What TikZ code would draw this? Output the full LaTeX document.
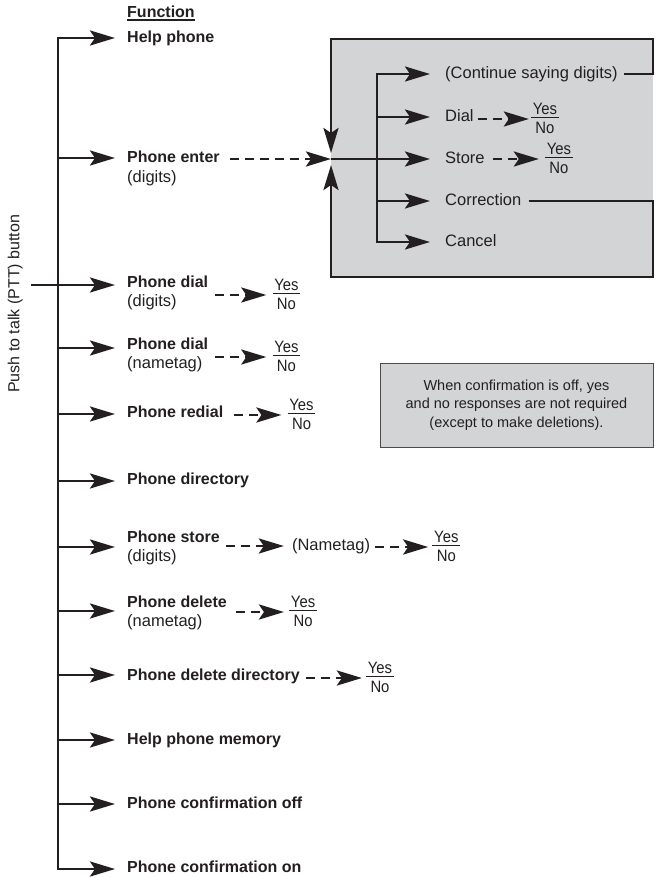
\documentclass[tikz,border=0pt]{standalone}
\usepackage{fontspec}
\usepackage{graphicx}
\setmainfont{Liberation Sans}
\usetikzlibrary{arrows.meta}
\definecolor{ink}{HTML}{231F20}
\definecolor{boxfill}{HTML}{D3D4D6}
\definecolor{noteline}{HTML}{4A4A4A}
\newcommand{\yn}{\scalebox{0.9}[1]{\renewcommand{\arraystretch}{0}\setlength{\arrayrulewidth}{1.1pt}\begin{tabular}{@{\hspace{2pt}}c@{\hspace{2pt}}}\raisebox{0pt}[12.5pt][3pt]{Yes}\\\hline\raisebox{0pt}[15pt][3pt]{No}\end{tabular}}}
\tikzset{
  myhead/.tip={Stealth[length=25pt,width=15pt,inset=5pt]},
  ln/.style={draw=ink, line width=2.8pt},
  arr/.style={ln, arrows={-myhead}},
  darr/.style={ln, arrows={-myhead}, dash pattern=on 9pt off 6pt},
  lbl/.style={anchor=west, inner sep=0pt, text=ink, text height=12pt, text depth=3pt, font=\fontsize{16}{19}\selectfont\bfseries},
  sub/.style={lbl, font=\fontsize{16.5}{19}\selectfont\mdseries},
  ynode/.style={anchor=west, inner sep=0pt, text=ink, font=\fontsize{16.5}{19}\selectfont},
  note/.style={draw=noteline, line width=0.9pt, fill=boxfill, inner sep=0pt, minimum width=273pt, minimum height=84pt, align=center, text=ink, font=\fontsize{14.5}{18.5}\selectfont}
}
\begin{document}
\begin{tikzpicture}[x=1pt,y=-1pt]
\useasboundingbox (0,0) rectangle (656,877);
% gray box geometry
\coordinate (bTL) at (331,39);
\coordinate (bTR) at (653,39);
\coordinate (bBR) at (653,277);
\coordinate (bBL) at (331,277);
\coordinate (hub) at (331,159);
\coordinate (iv) at (377,159);
\fill[boxfill] (bTL) rectangle (bBR);

% heading
\node[lbl] (func) at (127,13) {Function};
\draw[ink, line width=1.3pt] ([yshift=-2.5pt]func.base west) -- ([yshift=-2.5pt]func.base east);

% left labels
\node[lbl] (help) at (127,38) {Help phone};
\node[lbl] (enter) at (127,158) {Phone enter};
\node[sub] (enter2) at ([yshift=-20pt]enter.west) {(digits)};
\node[lbl] (dial) at (127,283) {Phone dial};
\node[sub] (dial2) at ([yshift=-19pt]dial.west) {(digits)};
\node[lbl] (dialn) at (127,345) {Phone dial};
\node[sub] (dialn2) at ([yshift=-19pt]dialn.west) {(nametag)};
\node[lbl] (redial) at (127,413) {Phone redial};
\node[lbl] (dir) at (127,480) {Phone directory};
\node[lbl] (store) at (127,538) {Phone store};
\node[sub] (store2) at ([yshift=-19pt]store.west) {(digits)};
\node[lbl] (del) at (127,603) {Phone delete};
\node[sub] (del2) at ([yshift=-19pt]del.west) {(nametag)};
\node[lbl] (deldir) at (127,676) {Phone delete directory};
\node[lbl] (mem) at (127,740) {Help phone memory};
\node[lbl] (off) at (127,804) {Phone confirmation off};
\node[lbl] (on) at (127,868) {Phone confirmation on};

% PTT label
\node[anchor=west, rotate=90, inner sep=0pt, text=ink, text height=12pt, text depth=3pt, font=\fontsize{16}{19}\selectfont] (pttlabel) at (15,393) {Push to talk (PTT) button};

% spine coordinates
\coordinate (s-help) at (58,38);
\coordinate (s-enter) at (58,158);
\coordinate (ptt) at (31,285);
\coordinate (s-dialn) at (58,348);
\coordinate (s-redial) at (58,414);
\coordinate (s-dir) at (58,481);
\coordinate (s-store) at (58,547);
\coordinate (s-del) at (58,611);
\coordinate (s-deldir) at (58,675);
\coordinate (s-mem) at (58,740);
\coordinate (s-off) at (58,804);
\coordinate (s-on) at (58,869);

\draw[ln, arrows={myhead-myhead}, shorten <=12pt, shorten >=12pt] (s-help -| help.west) -| (s-on) -- (s-on -| on.west);
\draw[arr, shorten >=12pt] (s-enter) -- (s-enter -| enter.west);
\draw[arr, shorten >=12pt] (ptt) -- (ptt -| dial.west);
\draw[arr, shorten >=12pt] (s-dialn) -- (s-dialn -| dialn.west);
\draw[arr, shorten >=12pt] (s-redial) -- (s-redial -| redial.west);
\draw[arr, shorten >=12pt] (s-dir) -- (s-dir -| dir.west);
\draw[arr, shorten >=12pt] (s-store) -- (s-store -| store.west);
\draw[arr, shorten >=12pt] (s-del) -- (s-del -| del.west);
\draw[arr, shorten >=12pt] (s-deldir) -- (s-deldir -| deldir.west);
\draw[arr, shorten >=12pt] (s-mem) -- (s-mem -| mem.west);
\draw[arr, shorten >=12pt] (s-off) -- (s-off -| off.west);

% yes/no branches
\node[ynode] (dialyn) at ([xshift=64pt,yshift=-12pt]dial.east) {\yn};
\draw[darr, shorten <=7pt, shorten >=6pt] (dial.east |- dialyn.west) -- (dialyn.west);
\node[ynode] (dialnyn) at ([xshift=64pt,yshift=-12pt]dialn.east) {\yn};
\draw[darr, shorten <=7pt, shorten >=6pt] (dialn.east |- dialnyn.west) -- (dialnyn.west);
\node[ynode] (redialyn) at ([xshift=64pt,yshift=-2pt]redial.east) {\yn};
\draw[darr, shorten <=11pt, shorten >=6pt] (redial.east |- redialyn.west) -- (redialyn.west);
\node[sub] (nametag) at ([xshift=72pt,yshift=-8pt]store.east) {(Nametag)};
\draw[darr, shorten <=6pt, shorten >=8pt] (store.east |- nametag.west) -- (nametag.west);
\node[ynode] (storeyn) at ([xshift=62pt,yshift=-1pt]nametag.east) {\yn};
\draw[darr, shorten <=5pt, shorten >=4pt] (nametag.east |- storeyn.west) -- (storeyn.west);
\node[ynode] (delyn) at ([xshift=62pt,yshift=-9pt]del.east) {\yn};
\draw[darr, shorten <=9pt, shorten >=5pt] (del.east |- delyn.west) -- (delyn.west);
\node[ynode] (deldiryn) at ([xshift=66pt,yshift=-2pt]deldir.east) {\yn};
\draw[darr, shorten <=6pt, shorten >=4pt] (deldir.east |- deldiryn.west) -- (deldiryn.west);

% phone enter into box
\draw[darr, shorten <=10pt] (enter.east |- hub) -- (hub);

% box contents
\node[sub] (cont) at (445,74) {(Continue saying digits)};
\node[sub] (bdial) at (445,117) {Dial};
\node[sub] (bstore) at (445,159) {Store};
\node[sub] (corr) at (445,201) {Correction};
\node[sub] (cancel) at (445,242) {Cancel};

\draw[ln] (hub) -- (iv);
\draw[arr, shorten >=15pt] (iv) |- (cont.west);
\draw[arr, shorten >=15pt] (iv) |- (cancel.west);
\draw[arr, shorten >=15pt] (iv |- bdial.west) -- (bdial.west);
\draw[arr, shorten >=15pt] (iv) -- (bstore.west);
\draw[arr, shorten >=15pt] (iv |- corr.west) -- (corr.west);

\node[ynode] (bdialyn) at ([xshift=57pt,yshift=-2pt]bdial.east) {\yn};
\draw[darr, shorten <=4pt, shorten >=2pt] (bdial.east |- bdialyn.west) -- (bdialyn.west);
\node[ynode] (bstoreyn) at ([xshift=60pt]bstore.east) {\yn};
\draw[darr, shorten <=8pt, shorten >=6pt] (bstore.east) -- (bstoreyn.west);

% loop-back lines forming the box border
\draw[arr, shorten <=6pt] (cont.east) -| (bTR) -- (bTL) -- ([yshift=6pt]hub);
\draw[arr, shorten <=7pt] (corr.east) -| (bBR) -- (bBL) -- ([yshift=-6pt]hub);

% note
\node[note] (note) at (516.5,405) {When confirmation is off, yes\\and no responses are not required\\(except to make deletions).};
\end{tikzpicture}
\end{document}
